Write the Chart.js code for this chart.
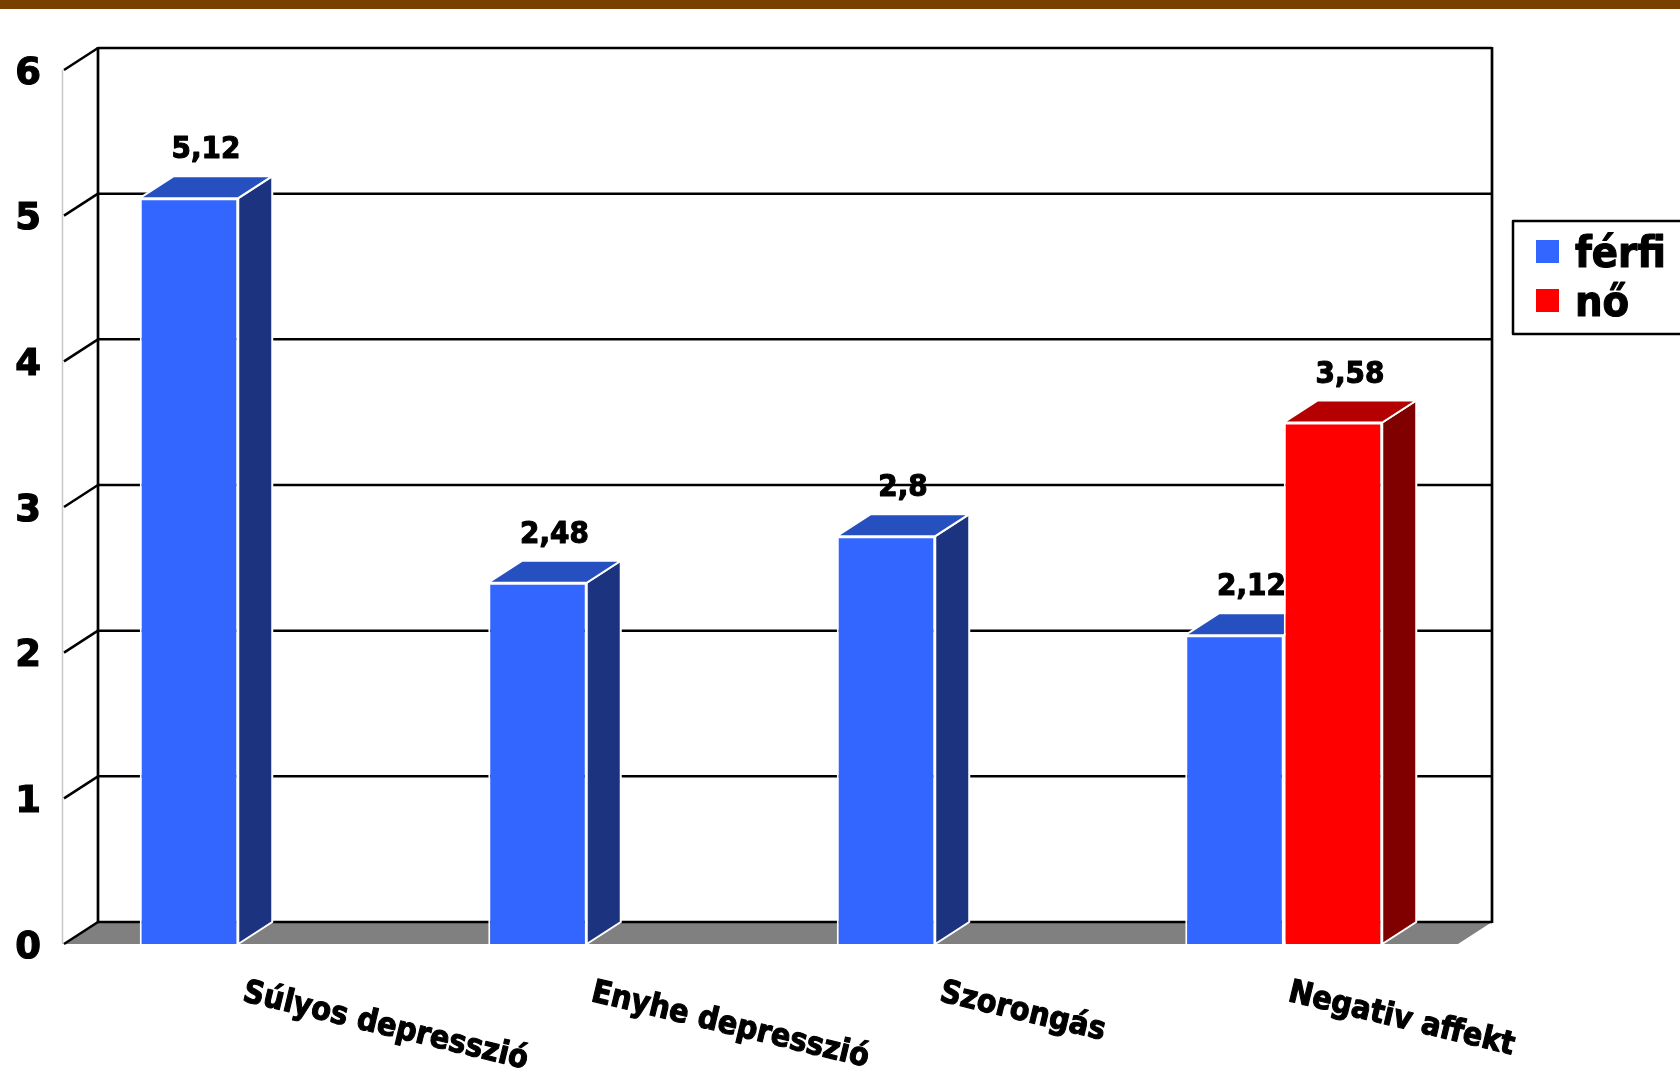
<!DOCTYPE html>
<html lang="hu">
<head>
<meta charset="utf-8">
<title>Férfi és nő – átlagpontszámok</title>
<script src="https://cdn.jsdelivr.net/npm/chart.js@4.4.1/dist/chart.umd.min.js"></script>
<style>
  html, body { margin: 0; padding: 0; background: #ffffff; }
  #wrap { width: 1680px; height: 1079px; position: relative; }
  canvas { display: block; }
</style>
</head>
<body>
<div id="wrap"><canvas id="chart" width="1680" height="1079"></canvas></div>
<script>
// Kategóriák és értékek
const categories = ['Súlyos depresszió', 'Enyhe depresszió', 'Szorongás', 'Negativ affekt'];
const seriesNames = ['férfi', 'nő'];
const ferfiValues = [5.12, 2.48, 2.8, 2.12];
const noValues = [null, null, null, 3.58];
const yTicks = [0, 1, 2, 3, 4, 5, 6];

// Megjelenés
const FONT = "'DejaVu Sans Condensed', 'DejaVu Sans', sans-serif";
const AXIS_FONT = "'DejaVu Sans', sans-serif";
const DEPTH_X = 34;   // a térhatású mélység vízszintes eltolása
const DEPTH_Y = 22;   // a térhatású mélység függőleges eltolása
const faceColors = [
  { front: '#3366FF', top: '#2650C0', side: '#1C3380' },
  { front: '#FF0000', top: '#B40000', side: '#800000' }
];

function fmt(v) { return String(v).replace('.', ','); }

function poly(ctx, pts, fill, stroke, lw) {
  ctx.beginPath();
  ctx.moveTo(pts[0][0], pts[0][1]);
  for (let i = 1; i < pts.length; i++) ctx.lineTo(pts[i][0], pts[i][1]);
  ctx.closePath();
  if (fill) { ctx.fillStyle = fill; ctx.fill(); }
  if (stroke) { ctx.strokeStyle = stroke; ctx.lineWidth = lw || 1; ctx.stroke(); }
}

function line(ctx, x1, y1, x2, y2, color, lw) {
  ctx.beginPath();
  ctx.moveTo(x1, y1);
  ctx.lineTo(x2, y2);
  ctx.strokeStyle = color;
  ctx.lineWidth = lw;
  ctx.stroke();
}

// vastagított felirat
function boldText(ctx, text, x, y) {
  ctx.fillText(text, x, y);
  ctx.lineWidth = 1.1;
  ctx.strokeStyle = ctx.fillStyle;
  ctx.lineJoin = 'round';
  ctx.strokeText(text, x, y);
}

// Hátfal, padló, rácsvonalak és a hasábok teteje/oldala
const boxPlugin = {
  id: 'box3d',
  beforeDraw(chart) {
    const ctx = chart.ctx;
    ctx.save();
    ctx.fillStyle = '#7A4000';
    ctx.fillRect(0, 0, chart.width, 9);
    ctx.restore();
  },
  beforeDatasetsDraw(chart) {
    const ctx = chart.ctx;
    const y = chart.scales.y;
    const a = chart.chartArea;
    const L = a.left, R = a.right;
    const y0 = y.getPixelForValue(yTicks[0]);
    const yMax = y.getPixelForValue(yTicks[yTicks.length - 1]);
    ctx.save();

    // padló
    poly(ctx, [[L, y0], [R, y0], [R + DEPTH_X, y0 - DEPTH_Y], [L + DEPTH_X, y0 - DEPTH_Y]], '#808080');

    // oldalfal elülső éle
    line(ctx, L - 1.5, yMax, L - 1.5, y0, '#C8C8C8', 1.5);

    // rácsvonalak a hátfalon és az oldalfalon
    yTicks.forEach(t => {
      const py = y.getPixelForValue(t);
      line(ctx, L, py, L + DEPTH_X, py - DEPTH_Y, '#000000', 2.5);
      line(ctx, L + DEPTH_X, py - DEPTH_Y, R + DEPTH_X, py - DEPTH_Y, '#000000', 2.5);
    });

    // hátfal függőleges élei
    line(ctx, L + DEPTH_X, yMax - DEPTH_Y - 1, L + DEPTH_X, y0 - DEPTH_Y + 1, '#000000', 2.7);
    line(ctx, R + DEPTH_X, yMax - DEPTH_Y - 1, R + DEPTH_X, y0 - DEPTH_Y + 1, '#000000', 2.7);

    // hasábok teteje és oldala
    chart.data.datasets.forEach((ds, di) => {
      const meta = chart.getDatasetMeta(di);
      const c = faceColors[di];
      meta.data.forEach((bar, i) => {
        if (ds.data[i] === null || ds.data[i] === undefined) return;
        const p = bar.getProps(['x', 'y', 'base', 'width'], true);
        const l = p.x - p.width / 2, r = p.x + p.width / 2;
        poly(ctx, [[r, p.y], [r + DEPTH_X, p.y - DEPTH_Y], [r + DEPTH_X, p.base - DEPTH_Y], [r, p.base]], c.side, '#FFFFFF', 2);
        poly(ctx, [[l, p.y], [l + DEPTH_X, p.y - DEPTH_Y], [r + DEPTH_X, p.y - DEPTH_Y], [r, p.y]], c.top, '#FFFFFF', 2);
      });
    });
    ctx.restore();
  },
  afterDatasetsDraw(chart) {
    const ctx = chart.ctx;
    ctx.save();
    // értékcímkék
    ctx.fillStyle = '#000000';
    ctx.font = 'bold 31px ' + FONT;
    ctx.textAlign = 'center';
    ctx.textBaseline = 'alphabetic';
    chart.data.datasets.forEach((ds, di) => {
      const meta = chart.getDatasetMeta(di);
      meta.data.forEach((bar, i) => {
        const v = ds.data[i];
        if (v === null || v === undefined) return;
        const p = bar.getProps(['x', 'y'], true);
        boldText(ctx, fmt(v), p.x + DEPTH_X / 2, p.y - 40);
      });
    });

    // kategóriafeliratok, ferdén
    const xs = chart.scales.x;
    const yb = chart.chartArea.bottom;
    ctx.font = 'bold 32px ' + FONT;
    ctx.textAlign = 'left';
    ctx.textBaseline = 'top';
    categories.forEach((cat, i) => {
      const cx = xs.getPixelForValue(i);
      ctx.save();
      ctx.translate(cx + 9, yb + 33);
      ctx.rotate(13.5 * Math.PI / 180);
      boldText(ctx, cat, 0, 0);
      ctx.restore();
    });

    // jelmagyarázat
    const lx = 1513, ly = 221;
    ctx.lineWidth = 2.5;
    ctx.strokeStyle = '#000000';
    ctx.strokeRect(lx, ly, chart.width - lx + 10, 113);
    ctx.font = 'bold 43px ' + FONT;
    ctx.textAlign = 'left';
    ctx.textBaseline = 'alphabetic';
    chart.data.datasets.forEach((ds, di) => {
      const rowY = ly + 19 + di * 49;
      ctx.fillStyle = ds.backgroundColor;
      ctx.fillRect(lx + 23, rowY, 23, 23);
      ctx.fillStyle = '#000000';
      boldText(ctx, ds.label, lx + 62, rowY + 27);
    });
    ctx.restore();
  }
};

new Chart(document.getElementById('chart'), {
  type: 'bar',
  data: {
    labels: categories,
    datasets: [
      { label: seriesNames[0], data: ferfiValues, backgroundColor: faceColors[0].front, borderColor: '#FFFFFF', borderWidth: 2, borderSkipped: 'bottom' },
      { label: seriesNames[1], data: noValues, backgroundColor: faceColors[1].front, borderColor: '#FFFFFF', borderWidth: 2, borderSkipped: 'bottom' }
    ]
  },
  options: {
    responsive: false,
    animation: false,
    devicePixelRatio: 1,
    layout: { padding: { left: 0, right: 222, top: 70, bottom: 135 } },
    datasets: { bar: { categoryPercentage: 0.5653, barPercentage: 1.0 } },
    plugins: {
      legend: { display: false },
      tooltip: { enabled: false },
      title: { display: false }
    },
    scales: {
      x: {
        display: false,
        offset: true
      },
      y: {
        min: 0,
        max: 6,
        afterFit(scale) { scale.width = 64; },
        afterBuildTicks(scale) { scale.ticks = yTicks.map(v => ({ value: v })); },
        grid: { display: false, drawTicks: false, tickLength: 0 },
        border: { display: false },
        ticks: {
          padding: 23,
          labelOffset: 4,
          color: '#000000',
          textStrokeColor: '#000000',
          textStrokeWidth: 1.2,
          font: { family: AXIS_FONT, size: 37, weight: 'bold' },
          callback: v => String(v)
        }
      }
    }
  },
  plugins: [boxPlugin]
});
</script>
</body>
</html>
